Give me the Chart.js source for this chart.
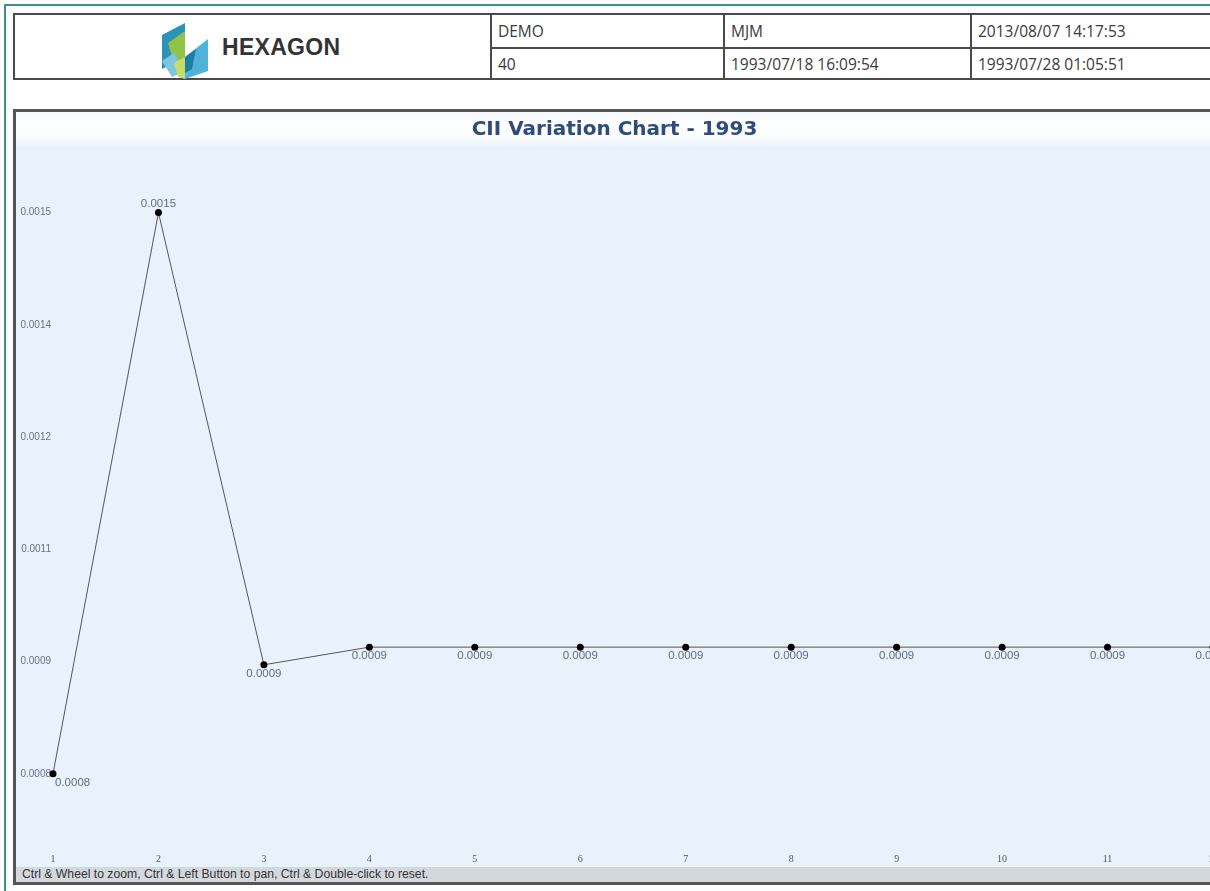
<!DOCTYPE html>
<html>
<head>
<meta charset="utf-8">
<script src="https://cdn.jsdelivr.net/npm/chart.js@4.4.0/dist/chart.umd.min.js"></script>
<style>
  html, body { margin:0; padding:0; width:1210px; height:891px; overflow:hidden; background:#fff; }
  .frame { position:absolute; left:4px; top:4px; width:1400px; height:1000px; border-left:2px solid #3f8f8c; border-top:2px solid #3f8f8c; }
  .hdr { position:absolute; left:13px; top:13px; width:1230px; height:67px; border:2px solid #4a4a4a; box-sizing:border-box; font-family:"Open Sans", sans-serif; font-size:15.5px; color:#3a3a3a; }
  .cell { position:absolute; box-sizing:border-box; padding-left:6px; line-height:32px; white-space:nowrap; }
  .vl { position:absolute; top:0; width:2px; height:100%; background:#4a4a4a; }
  .hl { position:absolute; left:475px; top:32px; height:2px; width:800px; background:#4a4a4a; }
  .logo-text { position:absolute; left:207px; top:19px; font-family:"Liberation Sans", Arial, sans-serif; font-weight:bold; font-size:23px; color:#333; letter-spacing:0.3px; }
  .panel { position:absolute; left:13px; top:109px; width:1260px; height:776px; box-sizing:border-box; border:3px solid #555; background:#e9f1fa; }
  .glow { position:absolute; left:16px; top:112px; width:1260px; height:36px; background:linear-gradient(to bottom, rgba(255,255,255,0.5) 0%, rgba(255,255,255,0.95) 30%, rgba(255,255,255,0.85) 65%, rgba(255,255,255,0) 100%); }
  #c { position:absolute; left:16px; top:112px; }
  .footer { position:absolute; left:16px; top:867px; width:1260px; height:15px; background:#d3d8df; font-family:"Liberation Sans", Arial, sans-serif; font-size:12.2px; color:#333; line-height:15px; padding-left:6px; box-sizing:border-box; }
</style>
</head>
<body>
<div class="frame"></div>
<div class="hdr">
  <svg style="position:absolute; left:143px; top:6px;" width="56" height="60" viewBox="0 0 56 60">
    <polygon points="4,14 27,2 27,36 4,48" fill="#2b93b7"/>
    <polygon points="10,22 27,10 27,36 16,42" fill="#9bc93c" opacity="0.9"/>
    <polygon points="4,40 16,32 27,50 14,56" fill="#7cc6e0"/>
    <polygon points="27,36 50,18 50,50 27,58" fill="#4fb3d9"/>
    <polygon points="27,36 38,28 34,48 27,52" fill="#1d7fa6"/>
    <polygon points="16,42 27,36 27,58 20,56" fill="#c7dc6a"/>
  </svg>
  <div class="logo-text">HEXAGON</div>
  <div class="vl" style="left:475px"></div>
  <div class="vl" style="left:708px"></div>
  <div class="vl" style="left:955px"></div>
  <div class="hl"></div>
  <div class="cell" style="left:477px; top:0;">DEMO</div>
  <div class="cell" style="left:710px; top:0;">MJM</div>
  <div class="cell" style="left:957px; top:0;">2013/08/07 14:17:53</div>
  <div class="cell" style="left:477px; top:33px;">40</div>
  <div class="cell" style="left:710px; top:33px;">1993/07/18 16:09:54</div>
  <div class="cell" style="left:957px; top:33px;">1993/07/28 01:05:51</div>
</div>
<div class="panel"></div>
<div class="glow"></div>
<canvas id="c" width="1240" height="754" style="width:1240px;height:754px;"></canvas>
<div class="footer">Ctrl &amp; Wheel to zoom, Ctrl &amp; Left Button to pan, Ctrl &amp; Double-click to reset.</div>
<script>
const categories = ['1','2','3','4','5','6','7','8','9','10','11','12'];
const ciiValues = [0.000800, 0.001500, 0.000936, 0.000958, 0.000958, 0.000958, 0.000958, 0.000958, 0.000958, 0.000958, 0.000958, 0.000958];
const pointLabels = ['0.0008','0.0015','0.0009','0.0009','0.0009','0.0009','0.0009','0.0009','0.0009','0.0009','0.0009','0.0009'];
const yTickValues = [0.00080, 0.00094, 0.00108, 0.00122, 0.00136, 0.00150];
const yTickLabels = ['0.0008','0.0009','0.0011','0.0012','0.0014','0.0015'];
const chartTitle = 'CII Variation Chart - 1993';

const pointLabelPlugin = {
  id: 'pointLabels',
  afterDatasetsDraw(chart) {
    const ctx = chart.ctx;
    const meta = chart.getDatasetMeta(0);
    const data = chart.data.datasets[0].data;
    ctx.save();
    ctx.font = '11.5px "Liberation Sans", Arial, sans-serif';
    ctx.fillStyle = '#5f6c86';
    meta.data.forEach((pt, i) => {
      const v = data[i];
      const prev = i > 0 ? data[i-1] : -Infinity;
      const next = i < data.length - 1 ? data[i+1] : -Infinity;
      const isPeak = v > prev && v > next;
      if (i === 0) {
        ctx.textAlign = 'left'; ctx.textBaseline = 'top';
        ctx.fillText(pointLabels[i], pt.x + 2, pt.y + 3);
      } else if (isPeak) {
        ctx.textAlign = 'center'; ctx.textBaseline = 'bottom';
        ctx.fillText(pointLabels[i], pt.x, pt.y - 3);
      } else {
        ctx.textAlign = 'center'; ctx.textBaseline = 'top';
        ctx.fillText(pointLabels[i], pt.x, pt.y + 3);
      }
    });
    ctx.restore();
  }
};

new Chart(document.getElementById('c'), {
  type: 'line',
  data: {
    labels: categories,
    datasets: [{
      data: ciiValues,
      borderColor: '#555',
      borderWidth: 1,
      pointRadius: 3.5,
      pointBackgroundColor: '#000',
      pointBorderColor: '#000',
      pointBorderWidth: 0,
      tension: 0,
      fill: false
    }]
  },
  options: {
    responsive: false,
    animation: false,
    layout: { padding: { left: 0, right: 43, top: 0, bottom: 0 } },
    plugins: {
      legend: { display: false },
      tooltip: { enabled: false },
      title: {
        display: true,
        text: chartTitle,
        color: '#2f4c7c',
        font: { family: '"DejaVu Sans", Verdana, sans-serif', size: 20, weight: 'bold' },
        padding: { top: 6, bottom: 8 }
      }
    },
    scales: {
      x: {
        offset: false,
        grid: { display: false, drawTicks: false },
        border: { display: false },
        ticks: { color: '#555', font: { family: '"Liberation Serif", serif', size: 10 }, padding: 3, maxRotation: 0, autoSkip: false },
        afterFit(s) { s.height = 16; }
      },
      y: {
        min: 0.000705,
        max: 0.001578,
        grid: { display: false, drawTicks: false },
        border: { display: false },
        afterBuildTicks(s) { s.ticks = yTickValues.map(v => ({ value: v })); },
        ticks: {
          color: '#66718c',
          font: { family: '"Liberation Sans", Arial, sans-serif', size: 10 },
          padding: 2,
          callback: (v, i) => yTickLabels[i]
        },
        afterFit(s) { s.width = 37; }
      }
    }
  },
  plugins: [pointLabelPlugin]
});
</script>
</body>
</html>
